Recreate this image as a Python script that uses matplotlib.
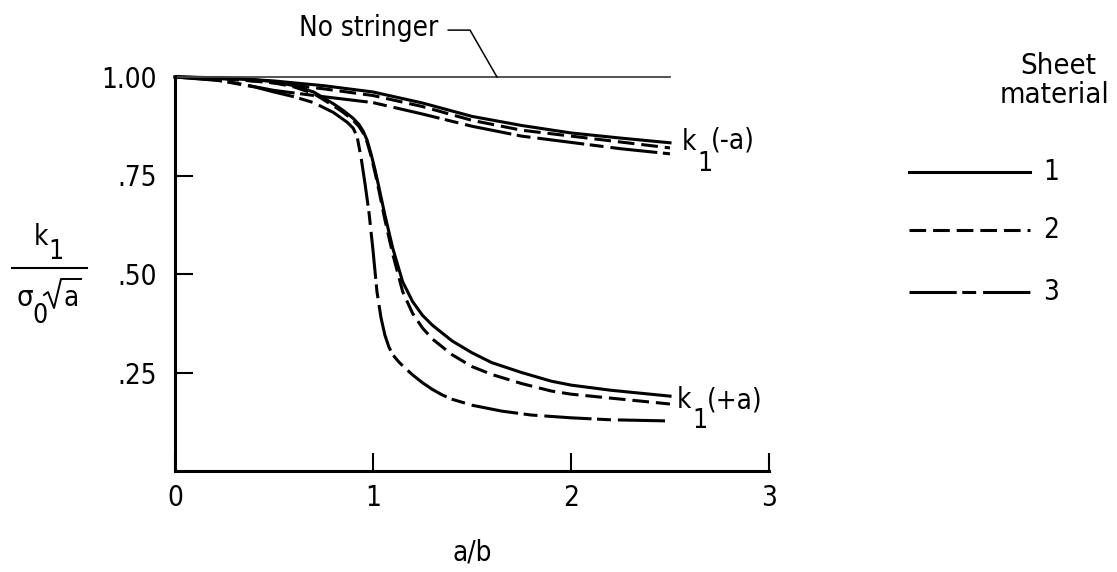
import matplotlib
matplotlib.use('Agg')
import matplotlib.pyplot as plt
from matplotlib.lines import Line2D

plt.rcParams['font.family'] = ['DejaVu Sans']
plt.rcParams['font.stretch'] = 'condensed'
plt.rcParams['lines.scale_dashes'] = False

W, H = 1117, 572

# k1(-a): crack tip moving away from the stringer
x_minus = [0, 0.25, 0.5, 0.75, 1.0, 1.25, 1.5, 1.75, 2.0, 2.25, 2.5]
kminus_1 = [1.0, 0.998, 0.99, 0.978, 0.962, 0.934, 0.9, 0.877, 0.858, 0.845, 0.833]
kminus_2 = [1.0, 0.996, 0.985, 0.97, 0.953, 0.925, 0.89, 0.865, 0.85, 0.835, 0.82]
kminus_3 = [1.0, 0.99, 0.966, 0.95, 0.935, 0.906, 0.875, 0.85, 0.834, 0.818, 0.805]

# k1(+a): crack tip approaching the stringer
x_plus = [0, 0.2, 0.4, 0.5, 0.6, 0.7, 0.8, 0.85, 0.9, 0.93, 0.95, 0.97, 0.99,
          1.01, 1.03, 1.06, 1.1, 1.15, 1.2, 1.25, 1.3, 1.4, 1.5, 1.6, 1.75,
          1.9, 2.0, 2.2, 2.5]
kplus_1 = [1.0, 0.998, 0.993, 0.988, 0.978, 0.962, 0.932, 0.915, 0.895, 0.879,
           0.863, 0.84, 0.805, 0.765, 0.72, 0.65, 0.565, 0.48, 0.43, 0.395,
           0.37, 0.33, 0.30, 0.275, 0.25, 0.228, 0.218, 0.205, 0.19]
kplus_2 = [1.0, 0.997, 0.99, 0.985, 0.975, 0.958, 0.927, 0.91, 0.89, 0.874,
           0.858, 0.835, 0.8, 0.758, 0.712, 0.638, 0.55, 0.455, 0.4, 0.363,
           0.335, 0.295, 0.265, 0.245, 0.222, 0.203, 0.195, 0.185, 0.17]
x_plus3 = [0, 0.2, 0.4, 0.5, 0.6, 0.7, 0.8, 0.87, 0.9, 0.92, 0.94, 0.96, 0.98,
           1.0, 1.02, 1.04, 1.06, 1.08, 1.1, 1.13, 1.16, 1.2, 1.25, 1.3, 1.35,
           1.4, 1.5, 1.65, 1.8, 2.0, 2.2, 2.5]
kplus_3 = [1.0, 0.993, 0.975, 0.962, 0.95, 0.935, 0.91, 0.885, 0.87, 0.848,
           0.795, 0.728, 0.655, 0.56, 0.455, 0.39, 0.345, 0.315, 0.295, 0.277,
           0.262, 0.244, 0.224, 0.207, 0.193, 0.182, 0.167, 0.152, 0.142, 0.135,
           0.13, 0.127]

x_nostringer = [0, 2.5]
k_nostringer = [1.0, 1.0]

materials = ['1', '2', '3']
styles = [dict(linestyle='-'),
          dict(linestyle=(0, (12, 5))),
          dict(linestyle=(0, (34, 4, 10, 5)))]

fig = plt.figure(figsize=(W / 100, H / 100), dpi=100)
ax = fig.add_axes([175 / W, 1 - 471 / H, (769 - 175) / W, (471 - 77) / H])
ax.set_xlim(0, 3)
ax.set_ylim(0, 1)

for s in ['top', 'right']:
    ax.spines[s].set_visible(False)
for s in ['left', 'bottom']:
    ax.spines[s].set_linewidth(2.2)

ax.set_xticks([0, 1, 2, 3])
ax.set_xticklabels(['0', '1', '2', '3'])
ax.set_yticks([0.25, 0.5, 0.75, 1.0])
ax.set_yticklabels(['.25', '.50', '.75', '1.00'])
ax.tick_params(direction='in', length=13, width=1.5, labelsize=20)
ax.tick_params(axis='x', pad=9)
ax.tick_params(axis='y', pad=13)

lw = 2.2
curves_minus = [kminus_1, kminus_2, kminus_3]
curves_plus = [(x_plus, kplus_1), (x_plus, kplus_2), (x_plus3, kplus_3)]
for st, km, (xp, kp) in zip(styles, curves_minus, curves_plus):
    ax.plot(x_minus, km, color='black', lw=lw, clip_on=False, **st)
    ax.plot(xp, kp, color='black', lw=lw, clip_on=False, **st)

ax.plot(x_nostringer, k_nostringer, color='#444444', lw=1.3, clip_on=False)

# leader from the "No stringer" note down to the line
ax.plot([1.38, 1.49, 1.626], [1.119, 1.119, 1.0], color='black', lw=1.1,
        clip_on=False)
ax.text(1.33, 1.125, 'No stringer', fontsize=20, ha='right', va='center')

# curve labels
ax.text(2.56, 0.835, 'k', fontsize=20, ha='left', va='center')
ax.text(2.64, 0.78, '1', fontsize=19, ha='left', va='center')
ax.text(2.705, 0.838, '(-a)', fontsize=20, ha='left', va='center')
ax.text(2.535, 0.18, 'k', fontsize=20, ha='left', va='center')
ax.text(2.615, 0.127, '1', fontsize=19, ha='left', va='center')
ax.text(2.685, 0.178, '(+a)', fontsize=20, ha='left', va='center')

ax.set_xlabel('a/b', fontsize=20)
ax.xaxis.set_label_coords(0.5, -0.208)
ax.xaxis.label.set_va('center')


def fig_text(px, py, s, size=20):
    fig.text(px / W, 1 - py / H, s, fontsize=size, ha='center', va='center')


def fig_line(pxs, pys, **kw):
    fig.add_artist(Line2D([p / W for p in pxs], [1 - p / H for p in pys],
                          color='black', **kw))


# y-axis label drawn as a stacked fraction
fig_text(40.5, 237, 'k')
fig_text(56, 252, '1', 19)
fig_line([12, 87], [268, 268], lw=1.5)
fig_text(25, 298, 'σ', 21)
fig_text(40, 316, '0', 19)
fig_line([44, 48, 54, 61, 81], [295, 292, 308, 279, 279], lw=1.4)
fig_text(71.5, 298, 'a')

# key for the sheet materials
fig_text(1058, 66, 'Sheet', 21)
fig_text(1055, 95, 'material', 21)
for i, (st, lab) in enumerate(zip(styles, materials)):
    y = [172, 230, 292][i]
    fig_line([909, 1030], [y, y], lw=lw, **st)
    fig_text(1051, y, lab)

fig.savefig('out.png', dpi=100)
